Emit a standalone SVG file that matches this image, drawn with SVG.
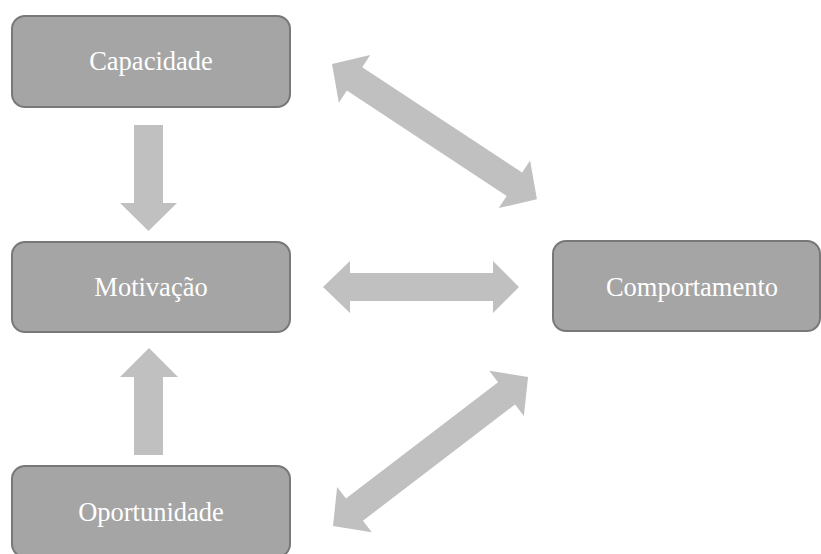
<svg xmlns="http://www.w3.org/2000/svg" width="821" height="554" viewBox="0 0 821 554">
  <style>
    .box { fill: #a5a5a5; stroke: #787878; stroke-width: 2; }
    .label { fill: #ffffff; font-family: "Liberation Serif", "Times New Roman", serif; font-size: 26.5px; text-anchor: middle; }
    .arrow { fill: #c0c0c0; }
  </style>
  <rect width="821" height="554" fill="#ffffff"/>

  <g id="connectors">
    <!-- Capacidade -> Motivação -->
    <polygon class="arrow" points="134,125 163,125 163,203 177,203 148.5,231 120,203 134,203"/>
    <!-- Oportunidade -> Motivação -->
    <polygon class="arrow" points="134,455 163,455 163,377 178,377 149,348 120,377 134,377"/>
    <!-- Motivação <-> Comportamento -->
    <polygon class="arrow" points="323,287 350,261 350,273 493,273 493,261 519,287 493,313 493,301 350,301 350,313"/>
    <!-- Capacidade <-> Comportamento -->
    <polygon class="arrow" transform="translate(332,64) rotate(33.4)" points="0,0 27,-28.5 27,-14 218.5,-14 218.5,-28.5 245.5,0 218.5,28.5 218.5,14 27,14 27,28.5"/>
    <!-- Oportunidade <-> Comportamento -->
    <polygon class="arrow" transform="translate(333,526) rotate(-37.4)" points="0,0 27,-28.5 27,-14 218.5,-14 218.5,-28.5 245.5,0 218.5,28.5 218.5,14 27,14 27,28.5"/>
  </g>

  <g id="capacidade">
    <rect class="box" x="12" y="16" width="278" height="91" rx="13"/>
    <text class="label" x="151" y="70">Capacidade</text>
  </g>
  <g id="motivacao">
    <rect class="box" x="12" y="242" width="278" height="90" rx="13"/>
    <text class="label" x="151" y="296">Motivação</text>
  </g>
  <g id="oportunidade">
    <rect class="box" x="12" y="466" width="278" height="91" rx="13"/>
    <text class="label" x="151" y="521">Oportunidade</text>
  </g>
  <g id="comportamento">
    <rect class="box" x="553" y="241" width="267" height="90" rx="13"/>
    <text class="label" x="692" y="296">Comportamento</text>
  </g>
</svg>
